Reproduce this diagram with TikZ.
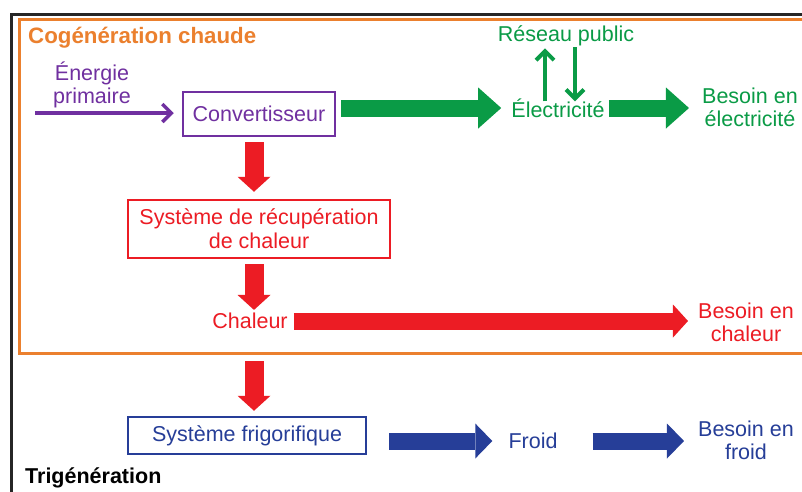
\documentclass[tikz,border=0pt]{standalone}
\usepackage{fontspec}
\setmainfont{Liberation Sans}
\usetikzlibrary{arrows.meta,calc}
\definecolor{corange}{RGB}{235,128,46}
\definecolor{cgreen}{RGB}{10,155,70}
\definecolor{cpurple}{RGB}{112,48,160}
\definecolor{cred}{RGB}{236,28,36}
\definecolor{cblue}{RGB}{38,62,152}
\begin{document}
\begin{tikzpicture}[x=1pt,y=-1pt,
  lbl/.style={font=\fontsize{21.5}{23}\selectfont, align=center, inner sep=1pt},
  ttl/.style={font=\fontsize{21.5}{23}\selectfont\bfseries, inner sep=0pt, anchor=west},
  boxed/.style={draw, line width=2.5pt, inner sep=0pt, font=\fontsize{21.5}{24}\selectfont, align=center},
  fatg/.style={line width=17pt, cgreen, -{Triangle[length=23pt,width=41pt,line width=0pt]}},
  fatr/.style={line width=#1, cred, -{Triangle[length=15pt,width=33pt,line width=0pt]}},
  fatb/.style={line width=17pt, cblue, -{Triangle[length=17pt,width=35pt,line width=0pt]}},
  thin/.style={line width=3.5pt, -{Straight Barb[length=9pt,width=18pt]}}]
\useasboundingbox (0,0) rectangle (802,491);
\fill[white] (0,0) rectangle (802,491);
% outer frame
\node[draw=black!85, line width=3pt, minimum width=820pt, minimum height=500pt, anchor=north west, inner sep=0pt] (frame) at (10,13) {};
% cogeneration box
\node[draw=corange, line width=3pt, minimum width=800pt, minimum height=334pt, anchor=north west, inner sep=0pt] (cogen) at (18,18) {};
\node[ttl, text=corange, font=\fontsize{22.3}{24}\selectfont\bfseries] (tcogen) at (28,38) {Cogénération chaude};
\node[ttl, text=black] (ttri) at (25,478) {Trigénération};
% nodes
\node[lbl, text=cpurple] (energie) at (92,85) {Énergie\\primaire};
\coordinate (estart) at (35,113);
\node[boxed, draw=cpurple, text=cpurple, minimum width=152pt, minimum height=44pt] (conv) at (259,114) {Convertisseur};
\node[lbl, text=cgreen] (elec) at (558,108) {Électricité};
\node[lbl, text=cgreen] (reseau) at (566,36) {Réseau public};
\node[lbl, text=cgreen] (belec) at (750,107) {Besoin en\\électricité};
\node[boxed, draw=cred, text=cred, minimum width=262pt, minimum height=58pt] (recup) at (259,229) {Système de récupération\\de chaleur};
\node[lbl, text=cred] (chaleur) at (250,321) {Chaleur};
\node[lbl, text=cred] (bchal) at (746,322) {Besoin en\\chaleur};
\node[boxed, draw=cblue, text=cblue, minimum width=238pt, minimum height=37pt] (frigo) at (247,435.5) {Système frigorifique};
\node[lbl, text=cblue] (froid) at (533,441) {Froid};
\node[lbl, text=cblue] (bfroid) at (746,440) {Besoin en\\froid};
% connectors
\draw[thin, cpurple, shorten >=8pt] (estart) -- (conv.west |- estart);
\draw[fatg, shorten <=5pt, shorten >=9pt] (conv.east |- elec.west) -- (elec.west);
\draw[fatg, shorten <=3pt, shorten >=12pt] (elec.east) -- (belec.west |- elec.east);
\draw[thin, cgreen, line width=4pt, shorten <=-4pt, shorten >=1pt] ([xshift=-13pt]elec.north) -- ([xshift=-21pt]reseau.south);
\draw[thin, cgreen, line width=4pt, shorten <=0pt, shorten >=-4pt] ([xshift=9pt]reseau.south) -- ([xshift=17pt]elec.north);
\draw[fatr=19pt, shorten <=5pt, shorten >=7pt] ([xshift=-5pt]conv.south) -- ([xshift=-5pt]conv.south |- recup.north);
\draw[fatr=19pt, shorten <=5pt, shorten >=2pt] ([xshift=-5pt]recup.south) -- ([xshift=-5pt]recup.south |- chaleur.north);
\draw[fatr=17pt, shorten <=5pt, shorten >=9pt] (chaleur.east) -- (bchal.west |- chaleur.east);
\draw[fatr=19pt, shorten <=6pt, shorten >=5pt] ([xshift=-5pt]recup.south |- cogen.south) -- ([xshift=-5pt]recup.south |- frigo.north);
\draw[fatb, shorten <=22pt, shorten >=15pt] (frigo.east |- froid.west) -- (froid.west);
\draw[fatb, shorten <=34pt, shorten >=13pt] (froid.east) -- (bfroid.west |- froid.east);
\end{tikzpicture}
\end{document}
